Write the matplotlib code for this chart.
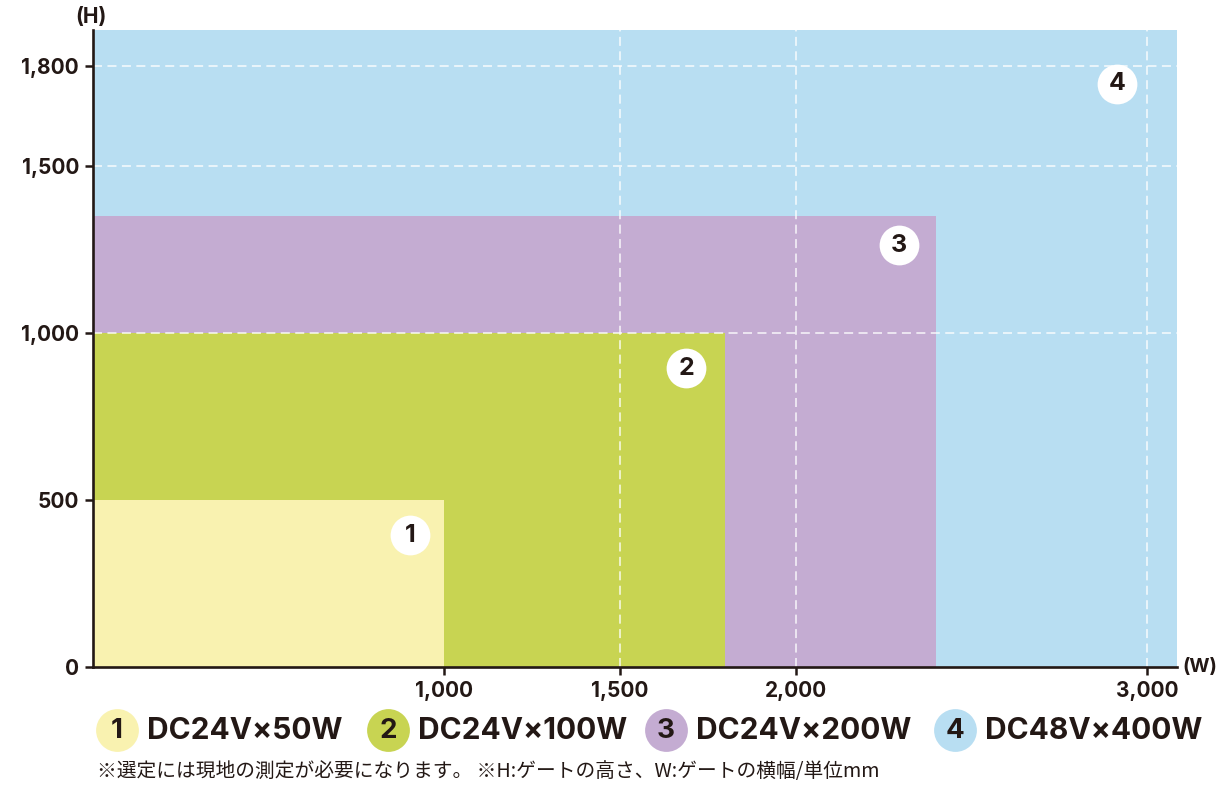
import matplotlib.pyplot as plt
from matplotlib import transforms

# gate sizes (mm) per motor, drawn largest first
names = ['1', '2', '3', '4']
labels = ['DC24V×50W', 'DC24V×100W', 'DC24V×200W', 'DC48V×400W']
widths = [1000, 1800, 2400, 3085]
heights = [500, 1000, 1350, 1908]
colors = ['#f9f2b0', '#c8d452', '#c4acd2', '#b8def2']

x_ticks = [1000, 1500, 2000, 3000]
y_ticks = [0, 500, 1000, 1500, 1800]
x_grid = [1500, 2000, 3000]
y_grid = [1000, 1500, 1800]

note = '※選定には現地の測定が必要になります。 ※H:ゲートの高さ、W:ゲートの横幅/単位mm'

ink = '#231815'
num_font = 'Inter'
jp_font = ['Noto Sans CJK JP', 'DejaVu Sans']

fig = plt.figure(figsize=(12.2, 7.85), dpi=100)
ax = fig.add_axes([93 / 1220, 118 / 785, 1084 / 1220, 637 / 785], zorder=2)

for i in reversed(range(len(widths))):
    ax.bar(0, heights[i], width=widths[i], align='edge', color=colors[i],
           linewidth=0, zorder=1)

for x in x_grid:
    ax.axvline(x, color='white', lw=1.3, alpha=0.75, ls=(0, (5, 3)), zorder=2)
for y in y_grid:
    ax.axhline(y, color='white', lw=1.3, alpha=0.75, ls=(0, (5, 3)), zorder=2)

# numbered badges near the top right corner of each area
badge_offsets = [(-34, -35), (-39, -35), (-37, -29), (-60, -54)]
for i in range(len(names)):
    dx, dy = badge_offsets[i]
    tr = transforms.offset_copy(ax.transData, fig=fig, x=dx, y=dy, units='dots')
    ax.scatter([widths[i]], [heights[i]], s=820, color='white', transform=tr,
               zorder=4, clip_on=False, linewidths=0)
    ax.text(widths[i], heights[i], names[i], transform=tr, ha='center',
            va='center', fontsize=18, fontweight='bold', family=num_font,
            color=ink, zorder=5)

ax.set_xlim(0, widths[-1])
ax.set_ylim(0, heights[-1])
ax.set_xticks(x_ticks)
ax.set_xticklabels([f'{v:,}' for v in x_ticks])
ax.set_yticks(y_ticks)
ax.set_yticklabels([f'{v:,}' for v in y_ticks])
for lab in ax.get_xticklabels() + ax.get_yticklabels():
    lab.set_family(num_font)
    lab.set_fontweight('bold')
ax.tick_params(axis='both', colors=ink, labelsize=15, length=6, width=1.8,
               direction='out', pad=4)
for side in ['top', 'right']:
    ax.spines[side].set_visible(False)
for side in ['left', 'bottom']:
    ax.spines[side].set_color(ink)
    ax.spines[side].set_linewidth(1.9)
    ax.spines[side].set_zorder(6)

# overlay in pixel units for axis names, legend and note
ov = fig.add_axes([0, 0, 1, 1], zorder=1)
ov.set_xlim(0, 1220)
ov.set_ylim(785, 0)
ov.axis('off')

ov.text(91, 17, '(H)', ha='center', va='center', fontsize=15,
        fontweight='bold', family=num_font, color=ink)
ov.text(1217, 667, '(W)', ha='right', va='center', fontsize=14,
        fontweight='bold', family=num_font, color=ink)

leg_x = [117, 388, 666, 955]
for i in range(len(names)):
    ov.scatter([leg_x[i]], [730], s=950, color=colors[i], linewidths=0)
    ov.text(leg_x[i], 731, names[i], ha='center', va='center', fontsize=20,
            fontweight='bold', family=num_font, color=ink)
    ov.text(leg_x[i] + 30, 731, labels[i], ha='left', va='center',
            fontsize=21.5, fontweight='bold', family=num_font, color=ink)

ov.text(97, 772, note, ha='left', va='center', fontsize=14.2, family=jp_font,
        color=ink)

fig.savefig('out.png', dpi=100)
